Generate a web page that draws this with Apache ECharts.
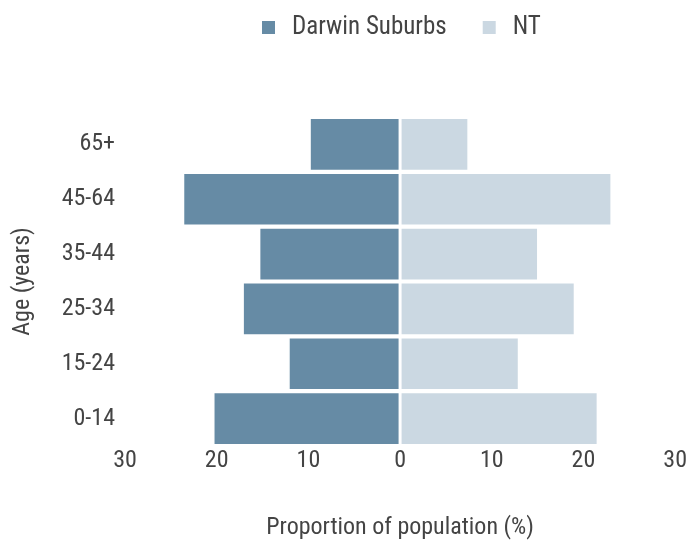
<!DOCTYPE html>
<html><head><meta charset="utf-8">
<script src="https://cdn.jsdelivr.net/npm/echarts@6/dist/echarts.min.js"></script>
<style>html,body{margin:0;padding:0;background:#fff}#c{width:690px;height:545px}</style>
</head><body><div id="c"></div>
<script>
const categories = ['0-14','15-24','25-34','35-44','45-64','65+'];
const darwinSuburbs = [20.4, 12.2, 17.2, 15.4, 23.7, 9.9];
const nt = [21.6, 13.0, 19.1, 15.1, 23.1, 7.5];
const xTicks = [-30,-20,-10,0,10,20,30];
const FONT = '"Roboto Condensed","Liberation Sans Narrow","Liberation Sans",sans-serif';
const chart = echarts.init(document.getElementById('c'));
chart.setOption({
  animation:false,
  textStyle:{fontFamily:FONT,color:'#444'},
  legend:{top:10,left:255,itemWidth:15,itemHeight:15,itemGap:34,icon:'rect',
    textStyle:{fontFamily:FONT,fontSize:25,color:'#444',padding:[0,0,0,11]},data:['Darwin Suburbs','NT']},
  grid:{left:125,right:13,top:117,bottom:95,containLabel:false},
  xAxis:{type:'value',min:-30,max:30,interval:10,
    axisLine:{show:false},axisTick:{show:false},splitLine:{show:false},
    axisLabel:{fontFamily:FONT,fontSize:24,color:'#444',margin:3,formatter:v=>Math.abs(v)},
    name:'Proportion of population (%)',nameLocation:'middle',nameGap:70,
    nameTextStyle:{fontFamily:FONT,fontSize:24,color:'#444'}},
  yAxis:{type:'category',data:categories,
    axisLine:{show:false},axisTick:{show:false},
    axisLabel:{fontFamily:FONT,fontSize:24,color:'#444',margin:10},
    name:'Age (years)',nameLocation:'middle',nameGap:90,nameRotate:90,
    nameTextStyle:{fontFamily:FONT,fontSize:24,color:'#444'}},
  series:[
    {name:'Darwin Suburbs',type:'bar',stack:'a',barCategoryGap:'2%',
     data:darwinSuburbs.map(v=>-v),
     itemStyle:{color:'#668BA5',borderColor:'#fff',borderWidth:1.5}},
    {name:'NT',type:'bar',stack:'a',barCategoryGap:'2%',
     data:nt,
     itemStyle:{color:'#CBD8E2',borderColor:'#fff',borderWidth:1.5}}
  ]
});
</script></body></html>
